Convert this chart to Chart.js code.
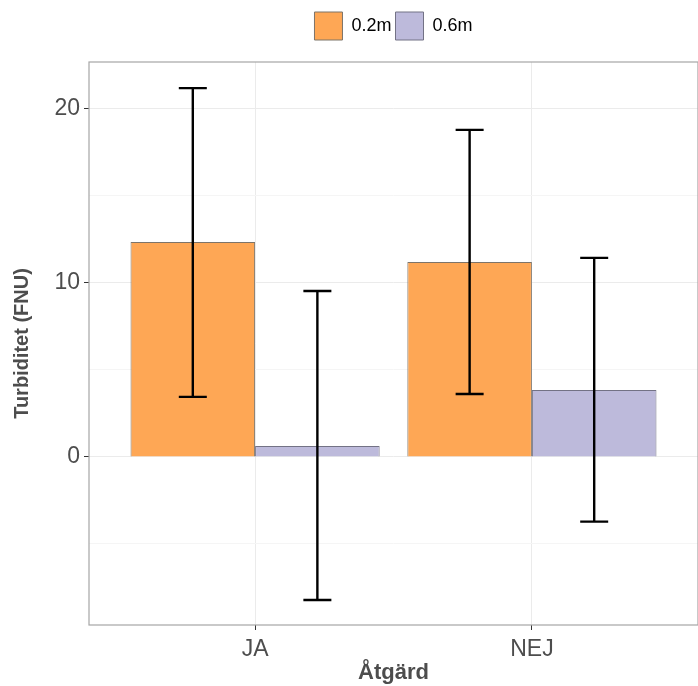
<!DOCTYPE html>
<html>
<head>
<meta charset="utf-8">
<script src="https://cdn.jsdelivr.net/npm/chart.js@4.4.1/dist/chart.umd.min.js"></script>
<style>
  html, body { margin: 0; padding: 0; background: #fff; }
  #wrap { width: 698px; height: 686px; }
</style>
</head>
<body>
<div id="wrap"><canvas id="chart" width="698" height="686"></canvas></div>
<script>
const categories = ['JA', 'NEJ'];
const seriesNames = ['0.2m', '0.6m'];
const means02 = [12.35, 11.2];
const means06 = [0.63, 3.85];
const low02 = [3.45, 3.62];
const high02 = [21.2, 18.8];
const low06 = [-8.22, -3.72];
const high06 = [9.54, 11.44];
const yTicks = [0, 10, 20];

const FONT = "'Liberation Sans', Arial, sans-serif";

// x positions 1..n on a linear axis, like ggplot's discrete scale
const toPoints = arr => arr.map((v, i) => ({ x: i + 1, y: v }));

const errorBars = {
    id: 'errorBars',
    afterDatasetsDraw(chart) {
        const ctx = chart.ctx;
        const y = chart.scales.y;
        const ranges = [[low02, high02], [low06, high06]];
        ctx.save();
        ctx.strokeStyle = '#000';
        ctx.lineWidth = 2.4;
        chart.data.datasets.forEach((ds, di) => {
            const meta = chart.getDatasetMeta(di);
            meta.data.forEach((bar, i) => {
                const x = bar.x;
                const yl = y.getPixelForValue(ranges[di][0][i]);
                const yh = y.getPixelForValue(ranges[di][1][i]);
                ctx.beginPath();
                ctx.moveTo(x, yl); ctx.lineTo(x, yh);
                ctx.moveTo(x - 14, yl); ctx.lineTo(x + 14, yl);
                ctx.moveTo(x - 14, yh); ctx.lineTo(x + 14, yh);
                ctx.stroke();
            });
        });
        ctx.restore();
    }
};

const panelBorder = {
    id: 'panelBorder',
    afterDraw(chart) {
        const a = chart.chartArea;
        const ctx = chart.ctx;
        ctx.save();
        ctx.strokeStyle = '#a6a6a6';
        ctx.lineWidth = 1.2;
        ctx.strokeRect(a.left, a.top, a.right - a.left, a.bottom - a.top);
        ctx.restore();
    }
};

// leave some room under the legend, as in the original
const legendGap = {
    id: 'legendGap',
    afterInit(chart) {
        const fit = chart.legend.fit;
        chart.legend.fit = function () {
            fit.call(this);
            this.height += 12;
        };
    }
};

new Chart(document.getElementById('chart'), {
    type: 'bar',
    data: {
        datasets: [
            {
                label: seriesNames[0],
                data: toPoints(means02),
                backgroundColor: '#FEA755',
                borderColor: '#7d7469',
                borderWidth: 1
            },
            {
                label: seriesNames[1],
                data: toPoints(means06),
                backgroundColor: '#BDBADB',
                borderColor: '#737285',
                borderWidth: 1
            }
        ]
    },
    options: {
        responsive: false,
        animation: false,
        layout: { padding: { top: 8, right: 0, left: 0, bottom: 0 } },
        datasets: {
            bar: { categoryPercentage: 0.9, barPercentage: 1.0, grouped: true }
        },
        plugins: {
            legend: {
                position: 'top',
                fullSize: false,
                labels: {
                    boxWidth: 28,
                    boxHeight: 28,
                    padding: 4,
                    color: '#000',
                    font: { family: FONT, size: 18 }
                }
            },
            tooltip: { enabled: false }
        },
        scales: {
            x: {
                type: 'linear',
                min: 0.4,
                max: 2.6,
                offset: false,
                afterFit: s => { s.height = 61; },
                afterBuildTicks: s => { s.ticks = categories.map((c, i) => ({ value: i + 1 })); },
                ticks: {
                    callback: v => categories[v - 1],
                    color: '#4d4d4d',
                    padding: 6,
                    font: { family: FONT, size: 23 }
                },
                grid: { offset: false, color: '#ebebeb', lineWidth: 1, tickLength: 5, tickColor: '#333' },
                border: { display: false },
                title: {
                    display: true,
                    text: 'Åtgärd',
                    color: '#4d4d4d',
                    padding: 0,
                    font: { family: FONT, size: 22, weight: 'bold' }
                }
            },
            y: {
                min: -9.66,
                max: 22.7,
                afterFit: s => { s.width = 89; },
                afterBuildTicks: s => { s.ticks = [-5, 0, 5, 10, 15, 20].map(v => ({ value: v })); },
                ticks: {
                    callback: v => yTicks.includes(v) ? String(v) : '',
                    color: '#4d4d4d',
                    padding: 4,
                    font: { family: FONT, size: 23 }
                },
                grid: {
                    color: c => yTicks.includes(c.tick && c.tick.value) ? '#ebebeb' : '#f5f5f5',
                    tickColor: c => yTicks.includes(c.tick && c.tick.value) ? '#333' : 'rgba(0,0,0,0)',
                    tickLength: 5
                },
                border: { display: false },
                title: {
                    display: true,
                    text: 'Turbiditet (FNU)',
                    color: '#4d4d4d',
                    padding: { top: 10, bottom: 0 },
                    font: { family: FONT, size: 20, weight: 'bold' }
                }
            }
        }
    },
    plugins: [errorBars, panelBorder, legendGap]
});
</script>
</body>
</html>
